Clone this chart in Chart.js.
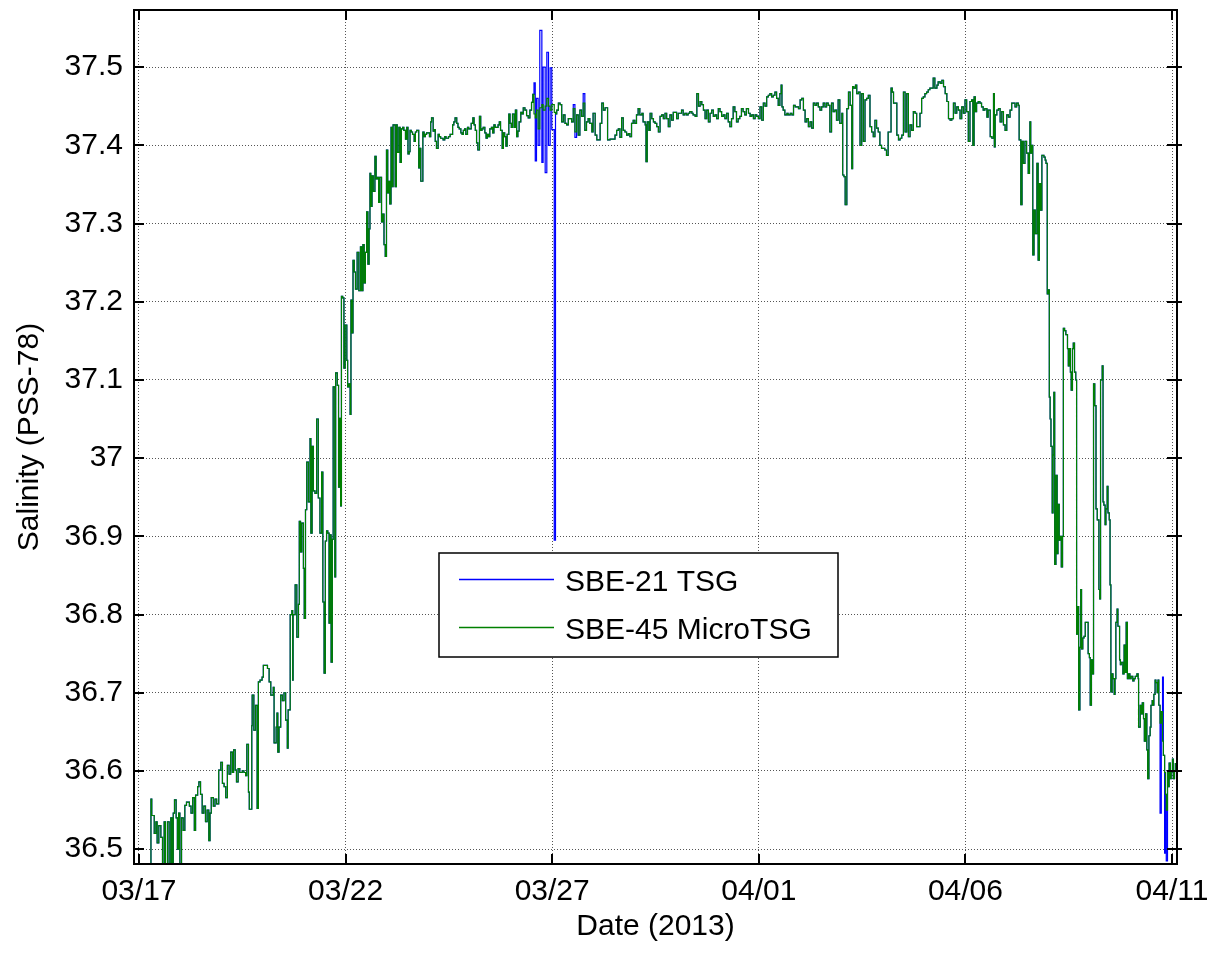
<!DOCTYPE html>
<html>
<head>
<meta charset="utf-8">
<title>Salinity (PSS-78)</title>
<script src="https://cdn.jsdelivr.net/npm/chart.js@4.4.1/dist/chart.umd.min.js"></script>
<style>
  html, body { margin: 0; padding: 0; background: #fff; }
  canvas { display: block; }
</style>
</head>
<body>
<canvas id="salinity" width="1211" height="953"></canvas>
<script>
// x axis is days since 03/17/2013 00:00
const dayTicks = [0, 5, 10, 15, 20, 25];
const dayLabels = ['03/17', '03/22', '03/27', '04/01', '04/06', '04/11'];
const salTicks = [36.5, 36.6, 36.7, 36.8, 36.9, 37.0, 37.1, 37.2, 37.3, 37.4, 37.5];
const salLabels = ['36.5', '36.6', '36.7', '36.8', '36.9', '37', '37.1', '37.2', '37.3', '37.4', '37.5'];
const seriesNames = ['SBE-21 TSG', 'SBE-45 MicroTSG'];
const seriesColors = ['#0000ff', '#008000'];

// SBE-45 MicroTSG: [day, salinity]
const microTsg = [
  [0.28,36.46],[0.29,36.564],[0.31,36.543],[0.37,36.52],[0.41,36.535],[0.44,36.508],[0.48,36.53],[0.53,36.515],
  [0.57,36.46],[0.61,36.535],[0.64,36.46],[0.69,36.535],[0.73,36.46],[0.77,36.54],[0.80,36.46],[0.83,36.546],
  [0.86,36.563],[0.90,36.54],[0.93,36.50],[0.96,36.546],[0.99,36.46],[1.03,36.54],[1.07,36.524],[1.11,36.556],
  [1.15,36.56],[1.22,36.555],[1.26,36.546],[1.30,36.566],[1.34,36.524],[1.37,36.569],[1.42,36.58],[1.45,36.586],
  [1.49,36.57],[1.53,36.546],[1.57,36.555],[1.61,36.535],[1.65,36.55],[1.69,36.511],[1.72,36.546],[1.75,36.566],
  [1.80,36.555],[1.84,36.564],[1.88,36.558],[1.93,36.601],[1.98,36.611],[2.02,36.584],[2.06,36.58],[2.10,36.566],
  [2.14,36.607],[2.18,36.596],[2.22,36.624],[2.26,36.598],[2.29,36.627],[2.33,36.601],[2.36,36.586],[2.40,36.603],
  [2.44,36.598],[2.50,36.60],[2.54,36.598],[2.58,36.594],[2.61,36.634],[2.65,36.573],[2.67,36.551],[2.73,36.658],
  [2.74,36.697],[2.78,36.652],[2.82,36.684],[2.86,36.552],[2.89,36.714],[2.93,36.716],[2.98,36.72],[3.01,36.735],
  [3.07,36.735],[3.11,36.731],[3.15,36.714],[3.19,36.697],[3.23,36.697],[3.25,36.707],[3.27,36.636],[3.32,36.656],
  [3.34,36.674],[3.36,36.624],[3.39,36.656],[3.43,36.697],[3.47,36.69],[3.51,36.70],[3.55,36.665],[3.59,36.629],
  [3.61,36.678],[3.66,36.80],[3.70,36.805],[3.72,36.716],
  [3.73,36.80],[3.78,36.838],[3.82,36.771],[3.86,36.813],[3.88,36.919],[3.91,36.88],[3.94,36.917],[3.98,36.859],
  [4.00,36.795],[4.03,36.934],[4.06,36.995],[4.10,36.944],[4.14,37.025],[4.16,36.904],[4.19,37.015],[4.22,36.958],
  [4.26,36.955],[4.30,37.05],[4.34,36.949],[4.38,36.904],[4.42,36.982],[4.45,36.816],[4.48,36.725],[4.51,36.894],
  [4.54,36.907],[4.57,36.904],[4.60,36.789],[4.62,36.902],[4.65,36.739],[4.68,36.896],[4.70,37.091],[4.74,36.848],
  [4.76,37.109],[4.80,37.093],[4.83,36.963],[4.86,37.051],[4.88,36.939],[4.90,37.207],[4.93,37.205],[4.96,37.115],
  [4.99,37.17],[5.03,37.125],[5.05,37.091],[5.08,37.095],[5.11,37.056],[5.13,37.202],[5.15,37.16],[5.18,37.253],
  [5.21,37.238],[5.24,37.216],[5.28,37.263],[5.32,37.214],[5.36,37.27],[5.39,37.214],[5.42,37.273],[5.45,37.224],
  [5.48,37.263],[5.51,37.315],[5.54,37.248],[5.57,37.293],[5.59,37.364],[5.61,37.322],[5.64,37.361],[5.67,37.341],
  [5.71,37.386],[5.74,37.357],[5.77,37.359],[5.80,37.327],[5.83,37.359],[5.87,37.302],[5.90,37.312],[5.93,37.273],
  [5.96,37.258],[5.99,37.394],[6.02,37.339],[6.04,37.354],[6.07,37.325],[6.10,37.423],[6.13,37.347],[6.15,37.426],
  [6.20,37.347],[6.23,37.426],[6.25,37.391],[6.29,37.423],[6.32,37.378],[6.35,37.421],[6.38,37.423],[6.41,37.419],
  [6.45,37.408],[6.48,37.423],[6.51,37.389],[6.54,37.392],[6.56,37.419],[6.59,37.417],[6.62,37.414],[6.66,37.405],
  [6.69,37.417],[6.72,37.419],[6.74,37.419],[6.77,37.371],[6.79,37.396],[6.82,37.354],[6.85,37.354],[6.87,37.417],
  [6.90,37.411],[6.93,37.414],[6.96,37.416],[6.99,37.416],[7.03,37.411],[7.06,37.43],[7.08,37.435],[7.12,37.418],
  [7.15,37.42],[7.17,37.405],[7.20,37.396],[7.24,37.414],[7.27,37.411],[7.30,37.409],[7.33,37.409],[7.36,37.407],
  [7.40,37.411],[7.43,37.409],[7.46,37.409],[7.49,37.411],[7.53,37.414],[7.56,37.414],[7.59,37.426],[7.62,37.43],
  [7.65,37.435],[7.69,37.428],[7.72,37.423],[7.75,37.421],[7.79,37.416],[7.82,37.414],[7.85,37.419],[7.88,37.421],
  [7.91,37.414],[7.95,37.423],[7.98,37.421],[8.01,37.421],[8.04,37.428],[8.08,37.435],[8.11,37.426],[8.14,37.419],
  [8.17,37.403],[8.20,37.394],[8.24,37.437],[8.27,37.419],[8.30,37.421],[8.33,37.423],[8.37,37.416],[8.40,37.409],
  [8.43,37.414],[8.46,37.411],[8.49,37.421],[8.53,37.423],[8.56,37.416],[8.59,37.426],[8.62,37.423],[8.66,37.423],
  [8.69,37.426],[8.72,37.43],[8.75,37.419],[8.79,37.396],[8.82,37.416],[8.85,37.411],[8.88,37.399],[8.91,37.414],
  [8.95,37.44],[8.98,37.428],[9.01,37.423],[9.04,37.44],[9.08,37.423],[9.11,37.445],[9.14,37.411],[9.17,37.418],
  [9.20,37.43],[9.24,37.442],[9.27,37.44],[9.30,37.448],[9.34,37.445],[9.38,37.438],[9.42,37.435],[9.46,37.445],
  [9.50,37.455],[9.53,37.465],[9.56,37.44],[9.59,37.435],[9.62,37.445],[9.66,37.421],[9.70,37.448],[9.75,37.452],
  [9.78,37.445],[9.83,37.45],[9.87,37.46],[9.91,37.45],[9.95,37.445],[9.99,37.452],[10.05,37.442],[10.08,37.44],
  [10.11,37.445],
  [10.15,37.454],[10.19,37.452],[10.23,37.43],[10.27,37.439],[10.31,37.428],[10.35,37.426],[10.39,37.434],[10.43,37.434],
  [10.47,37.43],[10.51,37.447],[10.55,37.417],[10.59,37.439],[10.63,37.413],[10.67,37.445],[10.71,37.437],[10.75,37.454],
  [10.79,37.419],[10.83,37.43],[10.87,37.434],[10.91,37.428],[10.96,37.417],[10.99,37.441],[11.04,37.413],[11.08,37.407],
  [11.12,37.407],[11.16,37.428],[11.20,37.454],[11.24,37.445],[11.28,37.448],[11.32,37.448],[11.34,37.407],[11.40,37.408],
  [11.48,37.408],[11.52,37.413],[11.56,37.419],[11.60,37.421],[11.64,37.41],[11.68,37.435],[11.72,37.419],[11.76,37.417],
  [11.80,37.413],[11.84,37.415],[11.88,37.411],[11.92,37.428],[11.96,37.432],[12.00,37.428],[12.04,37.439],[12.08,37.447],
  [12.12,37.439],[12.17,37.441],[12.20,37.43],[12.25,37.426],[12.27,37.379],[12.30,37.43],[12.34,37.419],[12.37,37.441],
  [12.41,37.434],[12.45,37.43],[12.49,37.428],[12.53,37.424],[12.57,37.417],[12.61,37.437],[12.65,37.439],[12.69,37.434],
  [12.73,37.441],[12.77,37.434],[12.81,37.424],[12.85,37.439],[12.89,37.432],[12.93,37.442],[12.97,37.442],[13.01,37.434],
  [13.05,37.441],[13.09,37.441],[13.13,37.445],[13.17,37.439],[13.21,37.441],[13.25,37.439],[13.29,37.441],[13.33,37.443],
  [13.38,37.441],[13.41,37.439],[13.46,37.437],[13.50,37.466],[13.54,37.45],[13.58,37.456],[13.62,37.452],[13.66,37.445],
  [13.70,37.434],[13.74,37.445],[13.78,37.43],[13.82,37.441],[13.86,37.445],[13.90,37.437],[13.94,37.439],[13.98,37.434],
  [14.02,37.447],[14.06,37.443],[14.10,37.437],[14.14,37.439],[14.18,37.434],[14.22,37.441],[14.26,37.43],[14.30,37.424],
  [14.34,37.434],[14.38,37.449],[14.42,37.443],[14.46,37.43],[14.50,37.434],[14.54,37.437],[14.58,37.447],[14.62,37.443],
  [14.66,37.439],[14.70,37.447],[14.75,37.441],[14.79,37.437],[14.83,37.439],[14.87,37.434],[14.91,37.439],[14.95,37.437],
  [14.99,37.434],[15.03,37.449],[15.07,37.432],[15.11,37.454],[15.15,37.45],[15.19,37.462],[15.23,37.464],[15.27,37.466],
  [15.31,37.462],[15.35,37.464],[15.39,37.468],[15.43,37.46],[15.47,37.451],[15.51,37.466],[15.54,37.477],[15.56,37.449],
  [15.59,37.445],[15.63,37.439],[15.68,37.441],[15.71,37.439],[15.76,37.441],[15.80,37.439],[15.84,37.451],[15.88,37.449],
  [15.92,37.449],[15.96,37.447],[16.00,37.458],[16.04,37.46],[16.08,37.445],[16.12,37.43],[16.16,37.434],[16.20,37.424],
  [16.24,37.43],[16.28,37.422],[16.32,37.454],[16.36,37.451],[16.40,37.454],[16.44,37.449],[16.48,37.445],[16.52,37.449],
  [16.56,37.454],[16.60,37.449],[16.64,37.454],[16.68,37.451],[16.72,37.417],[16.76,37.454],[16.80,37.443],[16.84,37.445],
  [16.88,37.432],[16.92,37.458],[16.96,37.428],[17.01,37.441],[17.03,37.362],[17.06,37.36],[17.09,37.324],[17.13,37.447],
  [17.17,37.468],[17.21,37.451],[17.25,37.37],[17.27,37.475],[17.30,37.473],[17.34,37.477],[17.37,37.466],[17.41,37.468],
  [17.45,37.40],[17.49,37.466],[17.53,37.405],[17.57,37.458],[17.61,37.46],[17.65,37.464],[17.69,37.424],[17.73,37.417],
  [17.77,37.411],[17.81,37.432],[17.85,37.422],[17.89,37.417],[17.93,37.40],[17.97,37.396],[18.01,37.396],[18.05,37.394],
  [18.09,37.387],[18.13,37.417],[18.17,37.417],[18.20,37.473],[18.23,37.468],[18.26,37.454],[18.30,37.454],[18.34,37.413],
  [18.38,37.407],[18.42,37.409],[18.46,37.413],[18.50,37.468],[18.54,37.417],[18.58,37.466],[18.62,37.411],[18.66,37.426],
  [18.70,37.419],[18.74,37.443],[18.78,37.441],[18.82,37.424],[18.86,37.424],[18.90,37.441],[18.94,37.46],[18.98,37.462],
  [19.02,37.466],[19.06,37.468],[19.10,37.471],[19.14,37.473],[19.18,37.473],[19.22,37.486],[19.26,37.473],[19.31,37.477],
  [19.34,37.481],[19.39,37.479],[19.43,37.483],[19.47,37.475],[19.51,37.466],[19.55,37.456],[19.59,37.434],[19.63,37.432],
  [19.67,37.434],[19.71,37.454],[19.75,37.441],[19.79,37.449],[19.83,37.445],[19.87,37.434],[19.91,37.449],[19.95,37.441],
  [19.99,37.458],[20.03,37.443],[20.07,37.405],[20.11,37.456],[20.15,37.458],[20.18,37.40],[20.21,37.462],[20.24,37.443],
  [20.27,37.454],[20.31,37.456],[20.35,37.454],
  [20.39,37.449],[20.43,37.445],[20.47,37.447],[20.52,37.436],[20.55,37.445],[20.60,37.411],[20.64,37.409],[20.68,37.466],
  [20.70,37.398],[20.72,37.439],[20.76,37.445],[20.80,37.447],[20.84,37.43],[20.88,37.443],[20.92,37.426],[20.96,37.419],
  [21.00,37.439],[21.04,37.436],[21.08,37.445],[21.12,37.454],[21.16,37.454],[21.20,37.449],[21.24,37.454],[21.28,37.451],
  [21.30,37.407],[21.34,37.324],[21.37,37.405],[21.40,37.377],[21.44,37.405],[21.48,37.39],[21.52,37.364],[21.55,37.39],
  [21.56,37.43],[21.58,37.39],[21.60,37.40],[21.63,37.26],[21.66,37.317],[21.69,37.287],[21.73,37.377],[21.76,37.253],
  [21.79,37.351],[21.82,37.317],[21.85,37.387],[21.90,37.385],[21.93,37.381],[21.95,37.377],
  [21.98,37.21],[22.01,37.215],[22.03,37.078],[22.05,37.05],[22.07,37.015],[22.10,36.93],[22.12,37.004],[22.14,37.084],
  [22.16,36.864],[22.19,36.978],[22.22,36.878],[22.24,36.941],[22.27,36.895],[22.29,36.90],[22.32,36.861],[22.35,36.90],
  [22.37,37.166],[22.40,37.163],[22.43,37.158],[22.47,37.14],[22.49,37.118],[22.51,37.14],[22.54,37.11],[22.56,37.087],
  [22.59,37.14],[22.61,37.147],[22.64,37.11],[22.67,37.10],[22.69,36.775],[22.72,36.81],[22.74,36.678],[22.77,36.758],
  [22.79,36.832],[22.81,36.756],[22.84,36.77],[22.87,36.772],[22.90,36.79],[22.94,36.79],[22.97,36.75],[23.00,36.745],
  [23.02,36.684],[23.05,36.742],[23.07,36.724],[23.10,37.095],[23.13,37.067],[23.16,36.935],[23.19,36.921],[23.23,36.832],
  [23.25,36.82],[23.27,37.10],[23.31,37.118],[23.33,36.944],[23.35,36.94],[23.38,36.915],[23.40,36.935],[23.43,36.964],
  [23.45,36.93],[23.48,36.921],[23.50,36.838],[23.52,36.701],[23.55,36.724],[23.57,36.718],[23.60,36.698],[23.62,36.718],
  [23.64,36.79],[23.67,36.807],[23.69,36.785],[23.73,36.742],[23.75,36.736],[23.77,36.739],[23.81,36.724],[23.84,36.761],
  [23.87,36.726],[23.89,36.79],[23.92,36.718],[23.95,36.724],[23.98,36.718],[24.01,36.721],[24.05,36.715],[24.08,36.718],
  [24.11,36.721],[24.15,36.724],[24.18,36.718],[24.19,36.656],[24.23,36.684],[24.26,36.673],[24.28,36.687],[24.31,36.667],
  [24.33,36.638],[24.36,36.673],[24.39,36.627],[24.41,36.59],[24.44,36.645],[24.47,36.656],[24.49,36.684],[24.52,36.69],
  [24.54,36.684],[24.56,36.698],[24.59,36.716],[24.61,36.713],[24.64,36.70],[24.66,36.716],[24.68,36.684],[24.71,36.661],
  [24.74,36.676],[24.77,36.638],[24.79,36.62],[24.82,36.598],[24.84,36.57],[24.86,36.55],[24.89,36.60],[24.91,36.58],
  [24.93,36.61],[24.96,36.59],[24.98,36.60],[25.01,36.615],[25.03,36.59],[25.06,36.60],[25.08,36.61]
];

// SBE-21 TSG readings where it departs from the MicroTSG trace: [day, salinity]
const tsgDepartures = [
  [9.56,37.48],[9.59,37.38],[9.62,37.46],[9.66,37.40],[9.70,37.547],[9.75,37.378],[9.78,37.50],[9.83,37.365],
  [9.87,37.519],[9.91,37.40],[9.95,37.499],[9.99,37.42],[10.05,36.895],[10.51,37.452],[10.55,37.41],[10.75,37.466],
  [24.71,36.546],[24.77,36.72],[24.82,36.495],[24.86,36.485]
];

const tsg = microTsg.map(([d, s]) => {
  const hit = tsgDepartures.find(p => p[0] === d);
  return { x: d, y: hit ? hit[1] : s };
});
const micro = microTsg.map(([d, s]) => ({ x: d, y: s }));

const FONT_FAMILY = '"Liberation Sans", Arial, Helvetica, sans-serif';
const font = { family: FONT_FAMILY, size: 30 };

// box, inward tick marks and the boxed legend inside the axes
const axesFrame = {
  id: 'axesFrame',
  afterDraw(chart) {
    const { ctx, chartArea: a, scales: { x, y } } = chart;
    ctx.save();
    ctx.strokeStyle = '#000';
    ctx.lineWidth = 2;
    ctx.strokeRect(a.left, a.top, a.right - a.left, a.bottom - a.top);

    ctx.beginPath();
    salTicks.forEach(v => {
      const py = Math.round(y.getPixelForValue(v));
      ctx.moveTo(a.left, py); ctx.lineTo(a.left + 10, py);
      ctx.moveTo(a.right - 10, py); ctx.lineTo(a.right + 5, py);
    });
    dayTicks.forEach(v => {
      const px = Math.round(x.getPixelForValue(v));
      ctx.moveTo(px, a.bottom); ctx.lineTo(px, a.bottom - 10);
      ctx.moveTo(px, a.top); ctx.lineTo(px, a.top + 10);
    });
    ctx.stroke();

    // legend
    const box = { left: 439, top: 553, width: 399, height: 104 };
    ctx.fillStyle = '#fff';
    ctx.fillRect(box.left, box.top, box.width, box.height);
    ctx.lineWidth = 1.5;
    ctx.strokeStyle = '#000';
    ctx.strokeRect(box.left, box.top, box.width, box.height);
    ctx.font = `30px ${FONT_FAMILY}`;
    ctx.textBaseline = 'middle';
    ctx.textAlign = 'left';
    chart.data.datasets.forEach((ds, i) => {
      const ly = box.top + 26.5 + i * 48;
      ctx.strokeStyle = ds.borderColor;
      ctx.lineWidth = 1.5;
      ctx.beginPath();
      ctx.moveTo(box.left + 20, ly);
      ctx.lineTo(box.left + 115, ly);
      ctx.stroke();
      ctx.fillStyle = '#000';
      ctx.fillText(ds.label, box.left + 126, ly + 3);
    });
    ctx.restore();
  }
};

new Chart(document.getElementById('salinity'), {
  type: 'line',
  data: {
    datasets: [
      { label: seriesNames[0], data: tsg, borderColor: seriesColors[0], borderWidth: 1.2, order: 1 },
      { label: seriesNames[1], data: micro, borderColor: seriesColors[1], borderWidth: 1.2, order: 0 }
    ]
  },
  options: {
    responsive: false,
    animation: false,
    devicePixelRatio: 1,
    parsing: false,
    layout: { padding: { top: 10, right: 34, left: 0, bottom: 0 } },
    elements: {
      point: { radius: 0, hoverRadius: 0 },
      line: { stepped: true, fill: false, tension: 0 }
    },
    plugins: { legend: { display: false }, tooltip: { enabled: false } },
    scales: {
      x: {
        type: 'linear',
        min: -0.12,
        max: 25.12,
        afterBuildTicks: s => { s.ticks = dayTicks.map(v => ({ value: v })); },
        // fixed axis band; end labels may hang past the plot edges
        afterFit: s => { s.height = 89; s.paddingLeft = 0; s.paddingRight = 0; },
        ticks: {
          callback: (v, i) => dayLabels[i],
          color: '#000', font, padding: 10, maxRotation: 0, autoSkip: false
        },
        grid: { color: '#555', lineWidth: 1, drawTicks: false },
        border: { display: false, dash: [1, 2] },
        title: { display: true, text: 'Date (2013)', color: '#000', font, padding: { top: 0, bottom: 8 } }
      },
      y: {
        type: 'linear',
        min: 36.481,
        max: 37.573,
        afterBuildTicks: s => { s.ticks = salTicks.map(v => ({ value: v })); },
        afterFit: s => { s.width = 134; s.paddingTop = 0; s.paddingBottom = 0; },
        ticks: {
          callback: (v, i) => salLabels[i],
          color: '#000', font, padding: 11, autoSkip: false
        },
        grid: { color: '#555', lineWidth: 1, drawTicks: false },
        border: { display: false, dash: [1, 2] },
        title: { display: true, text: 'Salinity (PSS-78)', color: '#000', font, padding: { top: 12, bottom: 0 } }
      }
    }
  },
  plugins: [axesFrame]
});
</script>
</body>
</html>
